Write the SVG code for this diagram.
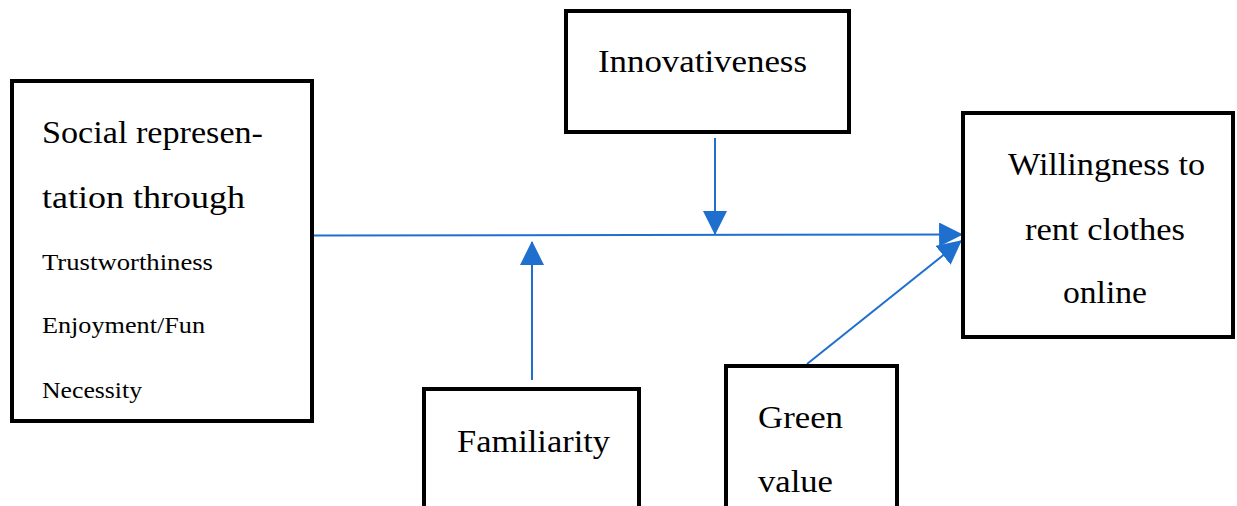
<svg xmlns="http://www.w3.org/2000/svg" width="1237" height="506" viewBox="0 0 1237 506">
<style>
.box{fill:#fff;stroke:#000;stroke-width:4}
.t{font-family:"Liberation Serif","Times New Roman",serif;fill:#000}
.big{font-size:31px}
.sm{font-size:23px}
.c{stroke:#1f6fcf;stroke-width:2;fill:none}
</style>
<defs>
<marker id="ah" markerUnits="userSpaceOnUse" markerWidth="24" markerHeight="24" viewBox="0 0 22 22" refX="21" refY="11" orient="auto">
<path d="M0,0 L22,11 L0,22 Z" fill="#1f6fcf"/>
</marker>
</defs>
<rect width="1237" height="506" fill="#fff"/>
<g id="connectors">
<line class="c" x1="313" y1="235.5" x2="962" y2="234.5" marker-end="url(#ah)"/>
<line class="c" x1="715" y1="138" x2="715" y2="234" marker-end="url(#ah)"/>
<line class="c" x1="532" y1="380" x2="532" y2="242" marker-end="url(#ah)"/>
<line class="c" x1="807" y1="364" x2="961" y2="241" marker-end="url(#ah)"/>
</g>
<g id="social">
<rect class="box" x="12" y="81" width="300" height="340"/>
<text class="t big" x="42" y="143" textLength="221" lengthAdjust="spacingAndGlyphs">Social represen-</text>
<text class="t big" x="42" y="208" textLength="203" lengthAdjust="spacingAndGlyphs">tation through</text>
<text class="t sm" x="42" y="270" textLength="171" lengthAdjust="spacingAndGlyphs">Trustworthiness</text>
<text class="t sm" x="42" y="333" textLength="163" lengthAdjust="spacingAndGlyphs">Enjoyment/Fun</text>
<text class="t sm" x="42" y="398" textLength="100" lengthAdjust="spacingAndGlyphs">Necessity</text>
</g>
<g id="innovativeness">
<rect class="box" x="566" y="11" width="283" height="121"/>
<text class="t big" x="598" y="72" textLength="209" lengthAdjust="spacingAndGlyphs">Innovativeness</text>
</g>
<g id="willingness">
<rect class="box" x="963" y="113" width="270" height="224"/>
<text class="t big" x="1008" y="175" textLength="197" lengthAdjust="spacingAndGlyphs">Willingness to</text>
<text class="t big" x="1025" y="240" textLength="160" lengthAdjust="spacingAndGlyphs">rent clothes</text>
<text class="t big" x="1063" y="303" textLength="84" lengthAdjust="spacingAndGlyphs">online</text>
</g>
<g id="familiarity">
<rect class="box" x="424" y="389" width="215" height="130"/>
<text class="t big" x="457" y="452" textLength="153" lengthAdjust="spacingAndGlyphs">Familiarity</text>
</g>
<g id="green">
<rect class="box" x="726" y="366" width="171" height="150"/>
<text class="t big" x="758" y="428" textLength="85" lengthAdjust="spacingAndGlyphs">Green</text>
<text class="t big" x="758" y="492" textLength="75" lengthAdjust="spacingAndGlyphs">value</text>
</g>
</svg>
